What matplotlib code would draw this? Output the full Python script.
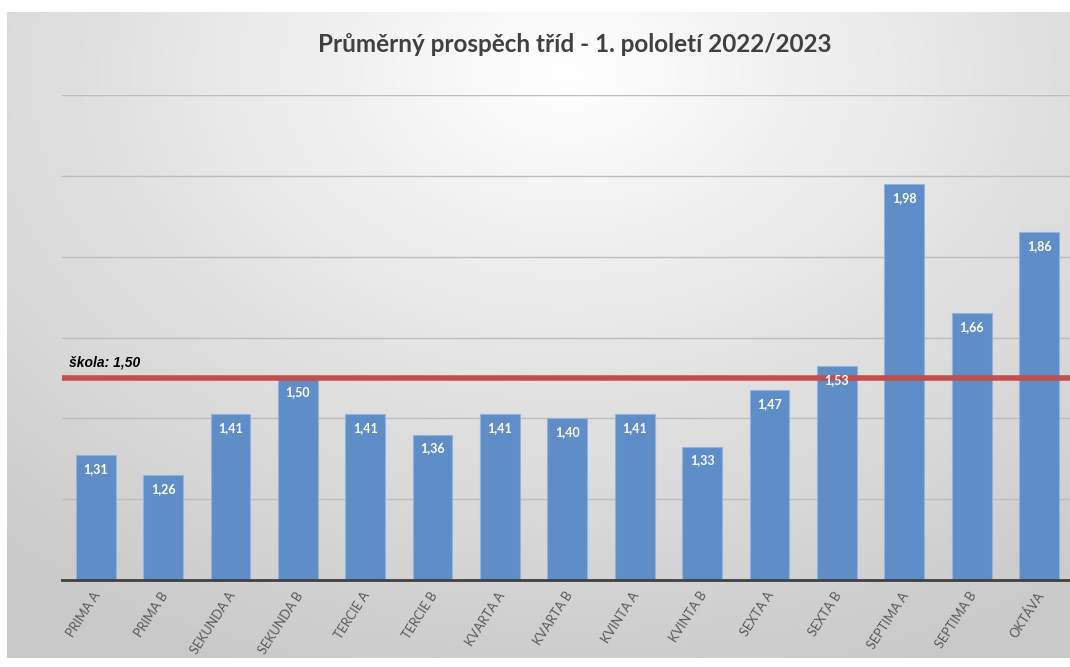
import numpy as np
import matplotlib
matplotlib.use("Agg")
import matplotlib.pyplot as plt
from matplotlib.colors import LinearSegmentedColormap
import matplotlib.transforms as mtransforms

categories = ["PRIMA A", "PRIMA B", "SEKUNDA A", "SEKUNDA B", "TERCIE A", "TERCIE B",
              "KVARTA A", "KVARTA B", "KVINTA A", "KVINTA B", "SEXTA A", "SEXTA B",
              "SEPTIMA A", "SEPTIMA B", "OKTÁVA"]
values = [1.31, 1.26, 1.41, 1.50, 1.41, 1.36, 1.41, 1.40, 1.41, 1.33, 1.47, 1.53, 1.98, 1.66, 1.86]
school_avg = 1.50
title = "Průměrný prospěch tříd - 1. pololetí 2022/2023"

W, H = 1070, 667
fig = plt.figure(figsize=(W / 100, H / 100), dpi=100)
fig.patch.set_facecolor("white")

# gradient background panel
bg = fig.add_axes([7 / W, 9 / H, (W - 7) / W, (658 - 9 - 3) / H])
bg.set_axis_off()
yy, xx = np.mgrid[0:650, 0:1063]
cx, cy = 560, 60
d = np.sqrt(((xx - cx) / 900.0) ** 2 + ((yy - cy) / 650.0) ** 2)
d = np.clip(d, 0, 1)
cmap = LinearSegmentedColormap.from_list("g", ["#ffffff", "#e2e2e2", "#c9c9c9"])
bg.imshow(d, cmap=cmap, aspect="auto", vmin=0, vmax=1, extent=[0, 1, 0, 1], origin="upper")
bg.set_xlim(0, 1)
bg.set_ylim(0, 1)

ax = fig.add_axes([62 / W, (H - 580) / H, (W - 62) / W, (580 - 95) / H])
ax.set_facecolor("none")
x = np.arange(len(categories))
bars = ax.bar(x, values, width=0.59, color="#5e8dc8", edgecolor="#93b3dd", linewidth=0.8, zorder=3)
ax.set_xlim(-0.5, 14.46)
ax.set_ylim(1.0, 2.2)
ax.set_yticks(np.arange(1.0, 2.21, 0.2))
ax.yaxis.grid(True, color="#bdbdbd", linewidth=1.0, zorder=0)
ax.tick_params(axis="y", left=False, labelleft=False)
ax.tick_params(axis="x", bottom=False, pad=3.5)
for s in ["top", "right", "left"]:
    ax.spines[s].set_visible(False)
ax.spines["bottom"].set_color("#404040")
ax.spines["bottom"].set_linewidth(2)
ax.spines["bottom"].set_zorder(5)

ax.set_xticks(x)
ax.set_xticklabels(categories, rotation=57, ha="right", va="top", rotation_mode="anchor",
                   fontsize=9.2, color="#595959", family=["Lato", "DejaVu Sans"])
shift = mtransforms.ScaledTranslation(-3 / 100, 0, fig.dpi_scale_trans)
for lbl in ax.get_xticklabels():
    lbl.set_transform(lbl.get_transform() + shift)

for xi, v in zip(x, values):
    ax.annotate(f"{v:.2f}".replace(".", ","), (xi, v), xytext=(0, -10), textcoords="offset points",
                ha="center", va="center", color="white", fontsize=9, fontweight="bold",
                family=["Lato", "DejaVu Sans"], zorder=6)

ax.axhline(school_avg, color="#c0504d", linewidth=4, zorder=4)
ax.annotate(f"škola: {school_avg:.2f}".replace(".", ","), (-0.5, school_avg), xytext=(5, 6),
            textcoords="offset points", ha="left", va="bottom", fontsize=10,
            fontweight="bold", fontstyle="italic", color="black",
            family=["Liberation Sans", "DejaVu Sans"])

fig.text(575 / W, 1 - 45 / H, title, ha="center", va="center", fontsize=17.5, fontweight="bold",
         color="#404040", family=["Lato", "DejaVu Sans"])

fig.savefig("out.png", dpi=100)
